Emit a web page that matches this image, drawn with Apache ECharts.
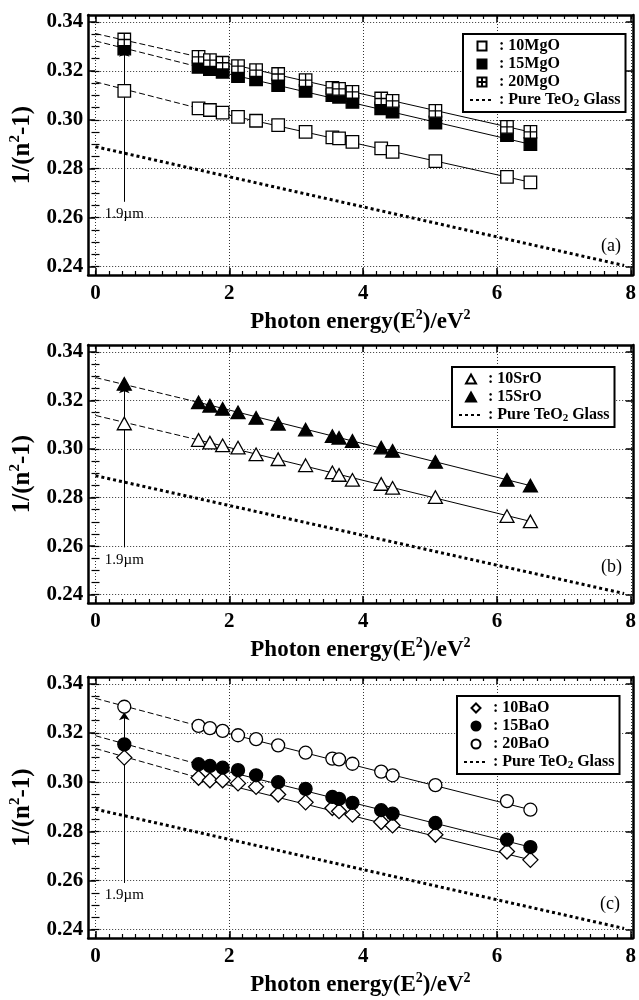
<!DOCTYPE html>
<html><head><meta charset="utf-8">
<script src="https://cdn.jsdelivr.net/npm/echarts@6/dist/echarts.min.js"></script>
<style>html,body{margin:0;padding:0;background:#fff}#c{width:639px;height:1000px}</style>
</head><body><div id="c"></div>
<script>
// ---------- data ----------
const xEnergy = [0.43, 1.54, 1.71, 1.90, 2.13, 2.40, 2.73, 3.14, 3.54, 3.64, 3.84, 4.27, 4.44, 5.08, 6.15, 6.50];

const mgo10 = [0.3118, 0.3047, 0.3040, 0.3029, 0.3012, 0.2996, 0.2978, 0.2951, 0.2928, 0.2924, 0.2910, 0.2883, 0.2869, 0.2831, 0.2767, 0.2744];
const mgo15 = [0.3291, 0.3216, 0.3207, 0.3196, 0.3178, 0.3165, 0.3142, 0.3118, 0.3101, 0.3094, 0.3073, 0.3047, 0.3033, 0.2989, 0.2937, 0.2901];
const mgo20 = [0.3328, 0.3257, 0.3244, 0.3233, 0.3219, 0.3203, 0.3187, 0.3162, 0.3130, 0.3126, 0.3114, 0.3087, 0.3077, 0.3036, 0.2971, 0.2951];

const sro10 = [0.3105, 0.3037, 0.3026, 0.3015, 0.3006, 0.2978, 0.2958, 0.2933, 0.2904, 0.2893, 0.2873, 0.2856, 0.2840, 0.2802, 0.2724, 0.2702];
const sro15 = [0.3268, 0.3192, 0.3178, 0.3165, 0.3151, 0.3128, 0.3104, 0.3080, 0.3053, 0.3046, 0.3033, 0.3006, 0.2992, 0.2947, 0.2873, 0.2849];

const bao10 = [0.3100, 0.3018, 0.3008, 0.3008, 0.2995, 0.2981, 0.2950, 0.2918, 0.2895, 0.2882, 0.2868, 0.2838, 0.2824, 0.2786, 0.2718, 0.2684];
const bao15 = [0.3154, 0.3073, 0.3066, 0.3059, 0.3049, 0.3028, 0.3000, 0.2973, 0.2940, 0.2932, 0.2916, 0.2886, 0.2872, 0.2834, 0.2766, 0.2736];
const bao20 = [0.3307, 0.3229, 0.3220, 0.3209, 0.3191, 0.3175, 0.3150, 0.3120, 0.3096, 0.3093, 0.3075, 0.3043, 0.3028, 0.2988, 0.2923, 0.2888];

// fitted lines: value at x = fitX[0] (dashed start), fitX[1] (dashed->solid), fitX[2] (end)
const fitX = [0, 1.54, 6.50];
const fitMgo10 = [0.3155, 0.3047, 0.2745];
const fitMgo15 = [0.3322, 0.3216, 0.2900];
const fitMgo20 = [0.3352, 0.3257, 0.2950];
const fitSro10 = [0.3138, 0.3037, 0.2702];
const fitSro15 = [0.3294, 0.3192, 0.2849];
const fitBao10 = [0.3137, 0.3018, 0.2684];
const fitBao15 = [0.3189, 0.3073, 0.2736];
const fitBao20 = [0.3341, 0.3229, 0.2888];

// pure TeO2 glass line (end points)
const pureX = [0, 7.90];
const pureY = [0.2890, 0.2405];

// 1.9 µm arrow: x, start value, end value per panel
const arrowX = 0.43;
const arrowFrom = [0.2665, 0.2595, 0.2590];
const arrowTo = [0.3290, 0.3262, 0.3285];
const arrowText = '1.9\u00b5m';

// tick labels
const xTickLabels = [0, 2, 4, 6, 8];
const yTickLabels = [0.24, 0.26, 0.28, 0.30, 0.32, 0.34];
const panelTags = ['(a)', '(b)', '(c)'];
const PURE = 'Pure TeO2 Glass';

// ---------- layout / style ----------
const X_MIN = -0.11, X_MAX = 8.03, Y_MIN = 0.2366, Y_MAX = 0.3428;
const xMinor = []; for (let i = 0; i <= 40; i++) xMinor.push(+(i * 0.2).toFixed(2));
const yMinor = []; for (let i = 0; i <= 20; i++) yMinor.push(+(0.24 + i * 0.005).toFixed(3));

const FONT = 'Liberation Serif';
const layout = [
  { top: 15, height: 260, legend: { left: 463, top: 34 }, tag: { left: 601, top: 237 } },
  { top: 345, height: 258, legend: { left: 452, top: 367 }, tag: { left: 601, top: 558 } },
  { top: 677, height: 261, legend: { left: 457, top: 696 }, tag: { left: 600, top: 895 } }
];
const GRID_LEFT = 86.5, GRID_WIDTH = 547.5;

const frameLine = { show: true, onZero: false, lineStyle: { color: '#000', width: 2.5 } };
const tickMajor = (vals) => ({ show: true, inside: true, length: 7, customValues: vals, lineStyle: { color: '#000', width: 1.5 } });
const tickMinor = (vals) => ({ show: true, inside: true, length: 4, customValues: vals, lineStyle: { color: '#000', width: 1.2 } });
const gridLine = { show: true, lineStyle: { color: '#333', width: 1, type: [1, 2] } };
const tickFont = { fontFamily: FONT, fontWeight: 'bold', fontSize: 21, color: '#000' };
const nameRich = {
  b: { fontFamily: FONT, fontWeight: 'bold', fontSize: 23, color: '#000', lineHeight: 28 },
  sup: { fontFamily: FONT, fontWeight: 'bold', fontSize: 14, color: '#000', lineHeight: 28, verticalAlign: 'top' }
};
const yNameRich = {
  b: { fontFamily: FONT, fontWeight: 'bold', fontSize: 25, color: '#000', lineHeight: 30 },
  sup: { fontFamily: FONT, fontWeight: 'bold', fontSize: 15, color: '#000', lineHeight: 30, verticalAlign: 'top' }
};

function makeXAxes(g) {
  const base = { gridIndex: g, type: 'value', min: X_MIN, max: X_MAX };
  return [
    Object.assign({}, base, {
      position: 'bottom', axisLine: frameLine, axisTick: tickMajor(xTickLabels),
      axisLabel: Object.assign({ customValues: xTickLabels, margin: 8, formatter: v => String(Math.round(v)) }, tickFont),
      splitLine: gridLine,
      name: '{b|Photon energy(E}{sup|2}{b|)/eV}{sup|2}', nameLocation: 'middle', nameGap: 33,
      nameTextStyle: { rich: nameRich }
    }),
    Object.assign({}, base, { position: 'top', axisLine: frameLine, axisTick: tickMajor(xTickLabels), axisLabel: { show: false }, splitLine: { show: false } }),
    Object.assign({}, base, { position: 'bottom', axisLine: { show: false }, axisTick: tickMinor(xMinor), axisLabel: { show: false }, splitLine: { show: false } }),
    Object.assign({}, base, { position: 'top', axisLine: { show: false }, axisTick: tickMinor(xMinor), axisLabel: { show: false }, splitLine: { show: false } })
  ];
}
function makeYAxes(g) {
  const base = { gridIndex: g, type: 'value', min: Y_MIN, max: Y_MAX };
  return [
    Object.assign({}, base, {
      position: 'left', axisLine: frameLine, axisTick: tickMajor(yTickLabels),
      axisLabel: Object.assign({ customValues: yTickLabels, margin: 5, formatter: v => v.toFixed(2) }, tickFont),
      splitLine: gridLine,
      name: '{b|1/(n}{sup|2}{b|-1)}', nameLocation: 'middle', nameGap: 47, nameRotate: 90,
      nameTextStyle: { rich: yNameRich }
    }),
    Object.assign({}, base, { position: 'right', axisLine: frameLine, axisTick: tickMajor(yTickLabels), axisLabel: { show: false }, splitLine: { show: false } }),
    Object.assign({}, base, { position: 'left', axisLine: { show: false }, axisTick: tickMinor(yMinor), axisLabel: { show: false }, splitLine: { show: false } }),
    Object.assign({}, base, { position: 'right', axisLine: { show: false }, axisTick: tickMinor(yMinor), axisLabel: { show: false }, splitLine: { show: false } })
  ];
}

const P_SQUARE = 'path://M0,0L10,0L10,10L0,10Z';
const P_SQUARE_PLUS = 'path://M0,0L10,0L10,10L0,10Z M5,0L5,10 M0,5L10,5';
const P_TRIANGLE = 'path://M5,0L10,9L0,9Z';
const P_DIAMOND = 'path://M5,0L10,5L5,10L0,5Z';
const panelsData = [
  [
    { name: '10MgO', y: mgo10, fit: fitMgo10, symbol: P_SQUARE, size: 12.5, fill: '#fff' },
    { name: '15MgO', y: mgo15, fit: fitMgo15, symbol: P_SQUARE, size: 12.5, fill: '#000' },
    { name: '20MgO', y: mgo20, fit: fitMgo20, symbol: P_SQUARE_PLUS, size: 12.5, fill: '#fff' }
  ],
  [
    { name: '10SrO', y: sro10, fit: fitSro10, symbol: P_TRIANGLE, size: 14, fill: '#fff' },
    { name: '15SrO', y: sro15, fit: fitSro15, symbol: P_TRIANGLE, size: 14, fill: '#000' }
  ],
  [
    { name: '10BaO', y: bao10, fit: fitBao10, symbol: P_DIAMOND, size: 15, fill: '#fff' },
    { name: '15BaO', y: bao15, fit: fitBao15, symbol: 'circle', size: 13, fill: '#000' },
    { name: '20BaO', y: bao20, fit: fitBao20, symbol: 'circle', size: 13, fill: '#fff' }
  ]
];

const grids = [], xAxes = [], yAxes = [], series = [], legends = [], titles = [];
layout.forEach((L, g) => {
  grids.push({ left: GRID_LEFT, width: GRID_WIDTH, top: L.top, height: L.height });
  xAxes.push(...makeXAxes(g));
  yAxes.push(...makeYAxes(g));
  const xi = 4 * g, yi = 4 * g;
  // pure TeO2 line with the 1.9 µm arrow
  series.push({
    name: PURE, type: 'line', xAxisIndex: xi, yAxisIndex: yi, symbol: 'none', z: 2,
    data: pureX.map((x, i) => [x, pureY[i]]),
    lineStyle: { color: '#000', width: 3, type: [3, 3], cap: 'butt' },
    itemStyle: { color: '#000' },
    markLine: {
      silent: true, symbol: ['none', 'arrow'], symbolSize: 8, animation: false,
      lineStyle: { color: '#000', width: 1, type: 'solid' },
      label: { show: true, position: 'start', formatter: arrowText, color: '#000', fontFamily: FONT, fontSize: 15, distance: 5 },
      data: [[{ coord: [arrowX, arrowFrom[g]] }, { coord: [arrowX, arrowTo[g]] }]]
    }
  });
  panelsData[g].forEach(s => {
    series.push({
      name: s.name + ' fit dashed', type: 'line', xAxisIndex: xi, yAxisIndex: yi, symbol: 'none', z: 3,
      data: [[fitX[0], s.fit[0]], [fitX[1], s.fit[1]]],
      lineStyle: { color: '#000', width: 1, type: [6, 3] }
    });
    series.push({
      name: s.name + ' fit', type: 'line', xAxisIndex: xi, yAxisIndex: yi, symbol: 'none', z: 3,
      data: [[fitX[1], s.fit[1]], [fitX[2], s.fit[2]]],
      lineStyle: { color: '#000', width: 1, type: 'solid' }
    });
  });
  panelsData[g].forEach(s => {
    series.push({
      name: s.name, type: 'scatter', xAxisIndex: xi, yAxisIndex: yi, z: 5,
      symbol: s.symbol, symbolSize: s.size, symbolKeepAspect: true,
      data: xEnergy.map((x, i) => [x, s.y[i]]),
      itemStyle: { color: s.fill, borderColor: '#000', borderWidth: 1.3, opacity: 1 }
    });
  });
  legends.push({
    orient: 'vertical', left: L.legend.left, top: L.legend.top,
    data: panelsData[g].map(s => ({ name: s.name, icon: s.symbol })).concat([
      { name: PURE, itemStyle: { color: 'rgba(0,0,0,0)', borderColor: 'rgba(0,0,0,0)', borderWidth: 0, opacity: 0 } }
    ]),
    backgroundColor: '#fff', borderColor: '#000', borderWidth: 2,
    padding: [4, 5, 3, 6], itemGap: 2, itemWidth: 24, itemHeight: 9,
    selectedMode: false,
    textStyle: {
      fontFamily: FONT, fontWeight: 'bold', fontSize: 16, color: '#000',
      rich: { sub: { fontFamily: FONT, fontWeight: 'bold', fontSize: 11, color: '#000', verticalAlign: 'bottom', padding: [7, 0, 0, 0] } }
    },
    formatter: n => n === PURE ? ': Pure TeO{sub|2} Glass' : ': ' + n
  });
  titles.push({ text: panelTags[g], left: L.tag.left, top: L.tag.top, padding: 0,
    textStyle: { fontFamily: FONT, fontWeight: 'normal', fontSize: 18, color: '#000' } });
});

const chart = echarts.init(document.getElementById('c'), null, { renderer: 'canvas' });
chart.setOption({
  animation: false,
  backgroundColor: '#fff',
  title: titles,
  grid: grids,
  xAxis: xAxes,
  yAxis: yAxes,
  legend: legends,
  series: series
});
</script>
</body></html>
